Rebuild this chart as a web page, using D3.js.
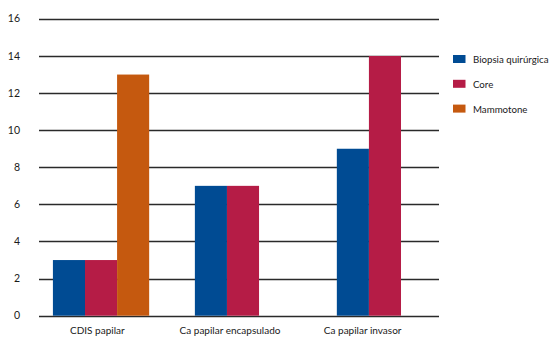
<!DOCTYPE html>
<html>
<head>
<meta charset="utf-8">
<script src="https://cdn.jsdelivr.net/npm/d3@7"></script>
<style>
  html, body { margin: 0; padding: 0; background: #fff; }
  svg { display: block; }
  text { font-family: Lato, "Noto Sans", sans-serif; fill: #1a1a1a; }
</style>
</head>
<body>
<svg id="chart" width="551" height="337"></svg>
<script>
// Categories and series
const categories = ["CDIS papilar", "Ca papilar encapsulado", "Ca papilar invasor"];
const seriesNames = ["Biopsia quirúrgica", "Core", "Mammotone"];
const biopsia = [3, 7, 9];
const core = [3, 7, 14];
const mammotone = [13, 0, 0];
const yTicks = [0, 2, 4, 6, 8, 10, 12, 14, 16];
const colors = ["#004b93", "#b51c46", "#c5590f"];

const seriesValues = [biopsia, core, mammotone];

const svg = d3.select("#chart");
const gridLeft = 39, gridRight = 439;

const y = d3.scaleLinear().domain([0, 16]).range([315.7, 18.9]);

// Bar group positions
const x0 = d3.scaleBand().domain(categories).range([39, 447])
  .paddingInner(0.322).paddingOuter(0.098);
const x1 = d3.scaleBand().domain(seriesNames).range([0, x0.bandwidth()]);

// Category label positions
const xLabel = d3.scaleBand().domain(categories).range([31, 429]);

// Gridlines
svg.append("g").selectAll("line").data(yTicks).join("line")
  .attr("x1", gridLeft).attr("x2", gridRight)
  .attr("y1", d => Math.round(y(d)) + 0.5).attr("y2", d => Math.round(y(d)) + 0.5)
  .attr("stroke", "#2a2a2a").attr("stroke-width", 1.4);

// Y tick labels
svg.append("g").selectAll("text").data(yTicks).join("text")
  .attr("x", 20).attr("y", d => y(d) + 3.5)
  .attr("text-anchor", "end").attr("font-size", 10.5)
  .text(d => d);

// Bars
const groups = svg.append("g").selectAll("g").data(categories).join("g")
  .attr("transform", c => `translate(${x0(c)},0)`);
groups.selectAll("rect")
  .data((c, i) => seriesNames.map((s, k) => ({ s, k, v: seriesValues[k][i] })))
  .join("rect")
  .attr("x", d => x1(d.s)).attr("width", x1.bandwidth())
  .attr("y", d => y(d.v)).attr("height", d => y(0) - y(d.v))
  .attr("fill", d => colors[d.k]);

// Category labels
svg.append("g").selectAll("text").data(categories).join("text")
  .attr("x", c => xLabel(c) + xLabel.bandwidth() / 2).attr("y", 333.5)
  .attr("text-anchor", "middle").attr("font-size", 10)
  .text(c => c);

// Legend
const legend = svg.append("g").selectAll("g").data(seriesNames).join("g")
  .attr("transform", (s, i) => `translate(453,${55 + i * 24.8})`);
legend.append("rect").attr("width", 12.5).attr("height", 8)
  .attr("fill", (s, i) => colors[i]);
legend.append("text").attr("x", 20).attr("y", 8)
  .attr("font-size", 9.7).text(s => s);
</script>
</body>
</html>
